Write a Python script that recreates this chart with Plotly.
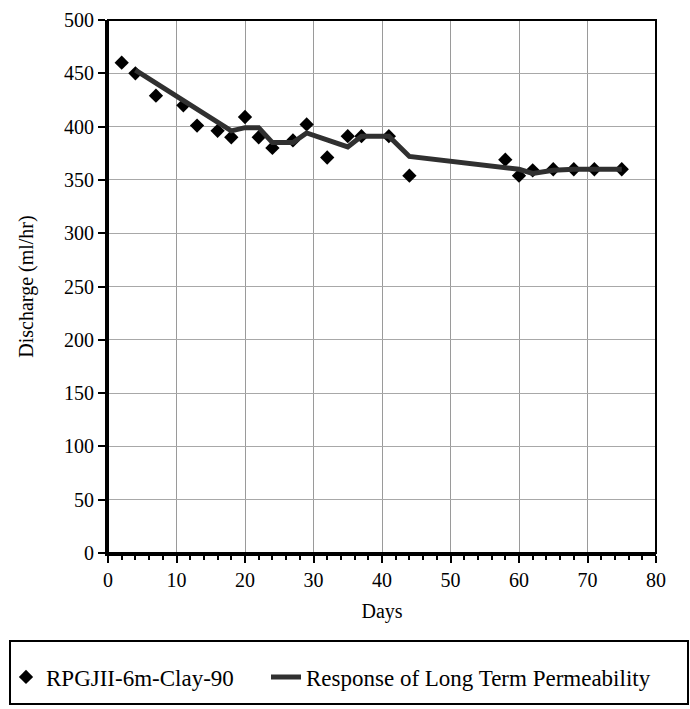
import plotly.graph_objects as go

# Measured data (diamonds)
obs_days = [2, 4, 7, 11, 13, 16, 18, 20, 22, 24, 27, 29, 32, 35, 37, 41, 44, 58, 60, 62, 65, 68, 71, 75]
obs_discharge = [460, 450, 429, 420, 401, 396, 390, 409, 390, 380, 387, 402, 371, 391, 391, 391, 354, 369, 354, 359, 360, 360, 360, 360]

# Response of long term permeability (line)
resp_days = [4, 11, 18, 20, 22, 24, 27, 29, 35, 37, 41, 44, 58, 60, 62, 65, 68, 71, 75]
resp_discharge = [453, 425, 396, 399, 399, 385, 385, 394, 381, 391, 391, 372, 362, 360, 356, 359, 360, 360, 360]

x_ticks = [0, 10, 20, 30, 40, 50, 60, 70, 80]
y_ticks = [0, 50, 100, 150, 200, 250, 300, 350, 400, 450, 500]

FONT = "Liberation Serif"
PW, PH, L, T = 548, 533, 108, 20

fig = go.Figure()
fig.add_trace(go.Scatter(
    x=obs_days, y=obs_discharge, mode="markers", name="RPGJII-6m-Clay-90",
    marker=dict(symbol="diamond", size=11, color="black"), legend="legend",
))
fig.add_trace(go.Scatter(
    x=resp_days, y=resp_discharge, mode="lines", name="Response of Long Term Permeability",
    line=dict(color="#303030", width=5), legend="legend2",
))

leg_common = dict(
    orientation="h", xanchor="left", yanchor="middle",
    y=(553 - 677) / PH,
    font=dict(family=FONT, size=23, color="black"),
    bgcolor="rgba(0,0,0,0)", itemwidth=30,
)

fig.update_layout(
    width=690, height=709,
    margin=dict(l=L, r=34, t=T, b=156, autoexpand=False),
    paper_bgcolor="white", plot_bgcolor="white",
    font=dict(family=FONT, size=20, color="black"),
    showlegend=True,
    legend=dict(x=(6 - L) / PW, **leg_common),
    legend2=dict(x=(266 - L) / PW, **leg_common),
    xaxis=dict(
        range=[0, 80], tickvals=x_ticks, ticktext=[str(v) for v in x_ticks],
        showgrid=True, gridcolor="#9a9a9a", gridwidth=1,
        showline=True, linecolor="black", linewidth=3,
        ticks="outside", ticklen=7, tickwidth=2, tickcolor="black",
        minor=dict(dtick=2, ticks="outside", ticklen=4, tickwidth=2, tickcolor="black", showgrid=False),
        tickfont=dict(family=FONT, size=20),
        title=dict(text="Days", font=dict(family=FONT, size=20), standoff=14),
        zeroline=False, automargin=False,
    ),
    yaxis=dict(
        range=[0, 500], tickvals=y_ticks, ticktext=[str(v) for v in y_ticks],
        showgrid=True, gridcolor="#a8a8a8", gridwidth=1,
        showline=True, linecolor="black", linewidth=3,
        ticks="outside", ticklen=7, tickwidth=2, tickcolor="black",
        tickfont=dict(family=FONT, size=20),
        title=dict(text="Discharge (ml/hr)", font=dict(family=FONT, size=20), standoff=26),
        zeroline=False, automargin=False,
    ),
    shapes=[
        dict(type="rect", xref="paper", yref="paper", x0=0, x1=1, y0=0, y1=1,
             line=dict(color="black", width=2), layer="above"),
        dict(type="rect", xref="paper", yref="paper",
             x0=(10 - L) / PW, x1=(688 - L) / PW,
             y0=(553 - 641) / PH, y1=(553 - 704) / PH,
             line=dict(color="black", width=2)),
    ],
)

fig.write_html("out.html")
